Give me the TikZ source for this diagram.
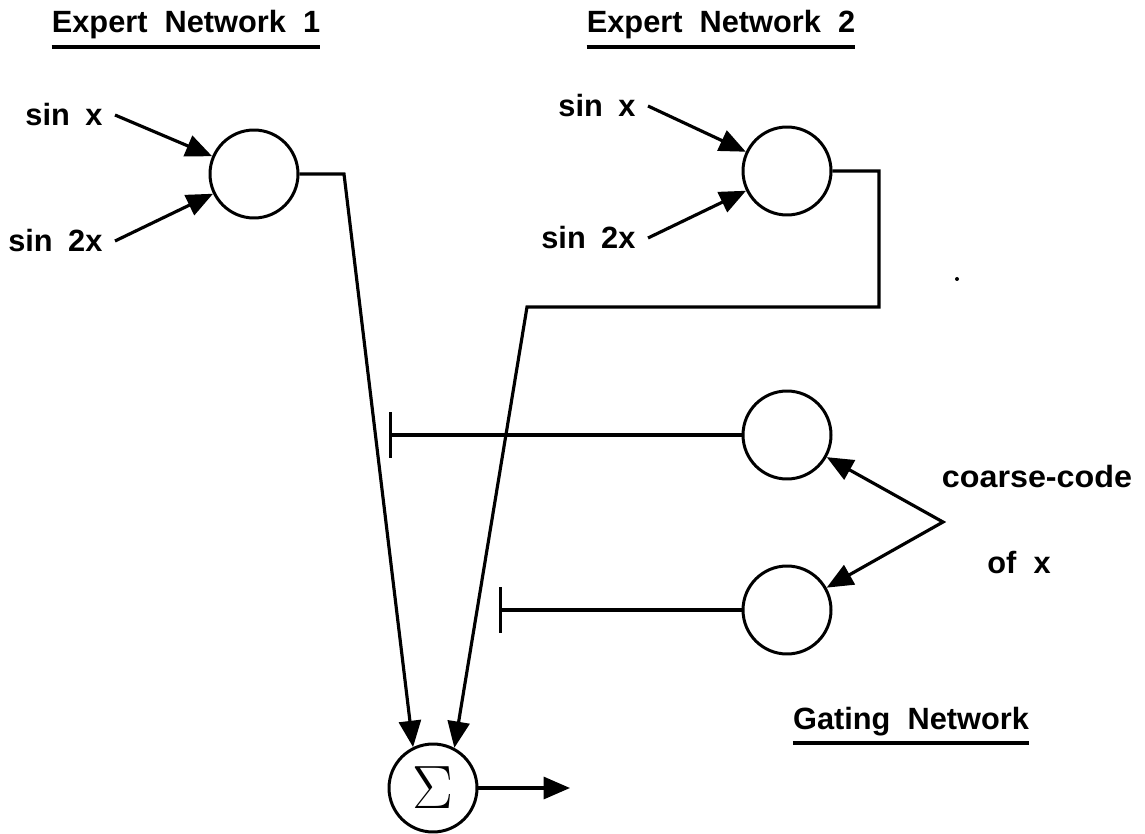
\documentclass[tikz,border=0pt]{standalone}
\usepackage{fontspec}
\setmainfont{Liberation Sans}
\usetikzlibrary{arrows.meta}

\newcommand{\wgap}{\hspace{0.5em}}

\tikzset{
    neuron/.style={circle, draw, line width=1.7pt, minimum size=1.76cm, inner sep=0pt},
    lbl/.style={font=\bfseries\fontsize{17.5}{20}\selectfont, inner xsep=7pt, inner ysep=0pt},
    title/.style={font=\bfseries\fontsize{17.5}{20}\selectfont, inner sep=0pt, anchor=base},
    uline/.style={line width=2.2pt},
    conn/.style={line width=1.8pt},
    arr/.style={conn, -{Triangle[length=15pt,width=12.5pt]}},
    inhib/.style={conn, -{Bar[width=26pt,line width=1.8pt]}}
}

\begin{document}
\begin{tikzpicture}[x=0.02cm, y=-0.02cm]
    \useasboundingbox (0,0) rectangle (1145,834);

    % Titoli sottolineati
    \node[title] (t1) at (186,33) {Expert\ \ Network\ \ 1};
    \node[title] (t2) at (721,33) {Expert\ \ Network\ \ 2};
    \node[title] (t3) at (911,729) {Gating\ \ Network};
    \draw[uline] ([yshift=-0.28cm]t1.base west) -- ([yshift=-0.28cm]t1.base east);
    \draw[uline] ([yshift=-0.28cm]t2.base west) -- ([yshift=-0.28cm]t2.base east);
    \draw[uline] ([yshift=-0.28cm]t3.base west) -- ([yshift=-0.28cm]t3.base east);

    % Esperto 1
    \node[neuron] (e1) at (254,174) {};
    \node[lbl, anchor=east] (sa1) at (115,115) {sin\wgap x};
    \node[lbl, anchor=east] (sb1) at (115,241) {sin\wgap 2x};
    \draw[arr] (sa1.east) -- (e1);
    \draw[arr] (sb1.east) -- (e1);

    % Esperto 2
    \node[neuron] (e2) at (787,171) {};
    \node[lbl, anchor=east] (sa2) at (648,106) {sin\wgap x};
    \node[lbl, anchor=east] (sb2) at (648,238) {sin\wgap 2x};
    \draw[arr] (sa2.east) -- (e2);
    \draw[arr] (sb2.east) -- (e2);

    % Rete di gating
    \node[neuron] (g1) at (787,435) {};
    \node[neuron] (g2) at (787,610) {};
    \coordinate (b1) at (389,435);
    \coordinate (b2) at (499,610);
    \draw[inhib] (g1.west) -- (b1);
    \draw[inhib] (g2.west) -- (b2);

    % Codifica grossolana di x
    \coordinate (cc) at (943,522);
    \draw[conn, line join=miter, {Triangle[length=15pt,width=12.5pt]}-{Triangle[length=15pt,width=12.5pt]}] (g1) -- (cc) -- (g2);
    \node[title] (cc1) at (1037,487) {\scalebox{1.05}[1]{coarse-code}};
    \node[title] (cc2) at (1019,573) {of\ \ x};

    % Somma
    \node[neuron] (sum) at (433,788) {\scalebox{1.4}{\fontsize{24.88}{26}\selectfont$\Sigma$}};
    \coordinate (d1) at (344,174);
    \coordinate (d2) at (879,307);
    \coordinate (d3) at (527,307);
    \coordinate (out) at (570,788);
    \draw[arr] (e1.east) -- (d1) -- (sum.116);
    \draw[arr] (e2.east) -| (d2) -- (d3) -- (sum.62);
    \draw[arr] (sum) -- (out);

    \fill (957,279) circle (2); % puntino
\end{tikzpicture}
\end{document}
